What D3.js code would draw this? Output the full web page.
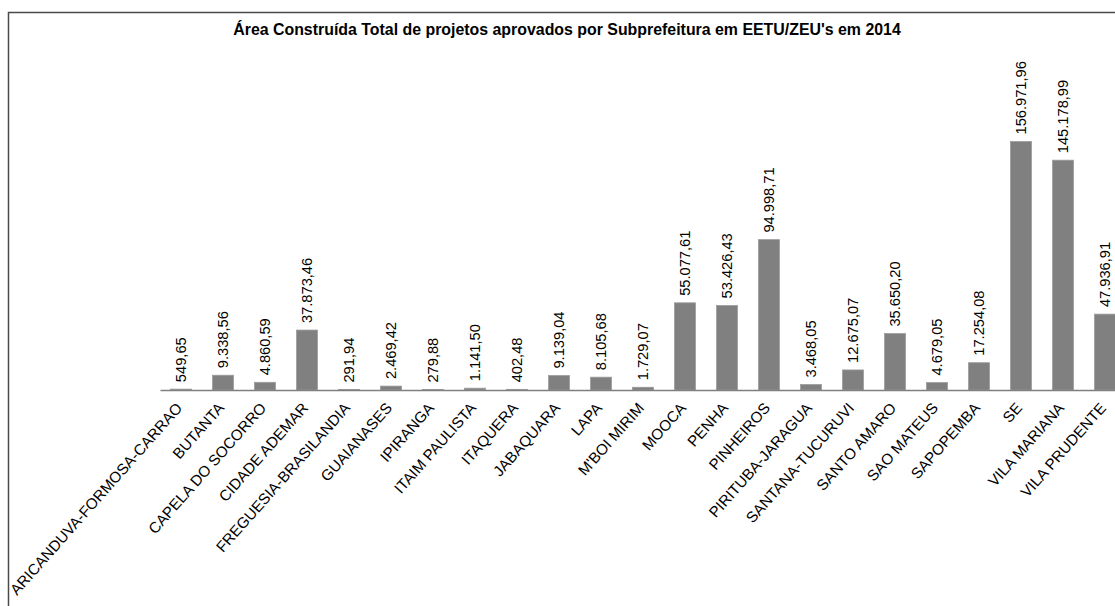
<!DOCTYPE html>
<html>
<head>
<meta charset="utf-8">
<script src="https://cdn.jsdelivr.net/npm/d3@7"></script>
<style>
  body { margin: 0; background: #fff; }
  text { font-family: "Liberation Sans", Arial, sans-serif; }
</style>
</head>
<body>
<svg id="chart" width="1115" height="606"></svg>
<script>
const title = "Área Construída Total de projetos aprovados por Subprefeitura em EETU/ZEU's em 2014";

const subprefeituras = [
  "ARICANDUVA-FORMOSA-CARRAO", "BUTANTA", "CAPELA DO SOCORRO", "CIDADE ADEMAR",
  "FREGUESIA-BRASILANDIA", "GUAIANASES", "IPIRANGA", "ITAIM PAULISTA", "ITAQUERA",
  "JABAQUARA", "LAPA", "M'BOI MIRIM", "MOOCA", "PENHA", "PINHEIROS",
  "PIRITUBA-JARAGUA", "SANTANA-TUCURUVI", "SANTO AMARO", "SAO MATEUS",
  "SAPOPEMBA", "SE", "VILA MARIANA", "VILA PRUDENTE"
];

const areaTotal = [
  549.65, 9338.56, 4860.59, 37873.46,
  291.94, 2469.42, 279.88, 1141.50, 402.48,
  9139.04, 8105.68, 1729.07, 55077.61, 53426.43, 94998.71,
  3468.05, 12675.07, 35650.20, 4679.05,
  17254.08, 156971.96, 145178.99, 47936.91
];

const data = subprefeituras.map((name, i) => ({ name, value: areaTotal[i] }));

// pt-BR number format: 1.234,56
const fmt = d3.formatLocale({ decimal: ",", thousands: ".", grouping: [3], currency: ["R$", ""] }).format(",.2f");

const svg = d3.select("#chart");

// chart frame (right and bottom edges fall outside the window)
svg.append("rect")
  .attr("x", 8.5).attr("y", 12.5)
  .attr("width", 1130).attr("height", 620)
  .attr("fill", "none")
  .attr("stroke", "#4a4a4a")
  .attr("stroke-width", 1.5);

svg.append("text")
  .attr("x", 567).attr("y", 35)
  .attr("text-anchor", "middle")
  .attr("font-weight", "bold")
  .attr("font-size", 15.9)
  .attr("fill", "#000")
  .text(title);

const baseY = 390;

const x = d3.scaleBand()
  .domain(subprefeituras)
  .range([160, 1126])
  .paddingInner(0.5)
  .paddingOuter(0.25);

const y = d3.scaleLinear()
  .domain([0, 160000])
  .range([baseY, baseY - 160000 * 0.001583]);

const bars = svg.append("g").attr("id", "bars");
bars.selectAll("rect")
  .data(data)
  .join("rect")
  .attr("x", d => x(d.name))
  .attr("y", d => y(d.value))
  .attr("width", x.bandwidth())
  .attr("height", d => baseY - y(d.value))
  .attr("fill", "#808080")
  .attr("stroke", "#9c9c9c")
  .attr("stroke-width", 0.8);

// category axis
const xAxis = svg.append("g")
  .attr("transform", `translate(0,${baseY})`)
  .call(d3.axisBottom(x).tickSize(0).tickPadding(0));
xAxis.select(".domain").attr("stroke", "#808080").attr("stroke-width", 1.5);
xAxis.selectAll(".tick text")
  .attr("font-size", 15.2)
  .attr("fill", "#000")
  .attr("text-anchor", "end")
  .attr("dy", "0.35em")
  .attr("transform", "translate(-2,15) rotate(-48.5)");

// value labels
const labels = svg.append("g").attr("id", "valueLabels");
labels.selectAll("text")
  .data(data)
  .join("text")
  .attr("transform", d => `translate(${x(d.name) + x.bandwidth() / 2},${y(d.value) - 7}) rotate(-90)`)
  .attr("dy", "0.35em")
  .attr("font-size", 14.67)
  .attr("fill", "#000")
  .text(d => fmt(d.value));
</script>
</body>
</html>
